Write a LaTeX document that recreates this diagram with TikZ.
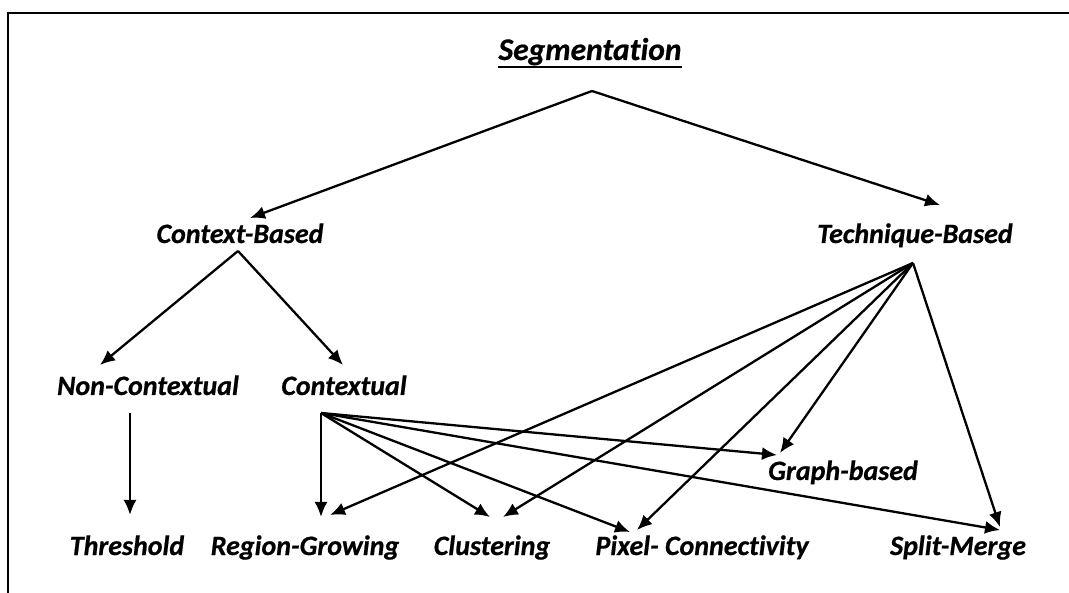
\documentclass[tikz,border=0pt]{standalone}
\usepackage{fontspec}
\setmainfont{Carlito}[Ligatures={NoCommon},BoldItalicFeatures={FakeBold=0.6}]
\usetikzlibrary{arrows.meta}
\begin{document}
\begin{tikzpicture}[x=1pt,y=-1pt,>={Latex[length=15pt,width=13pt]},
    lbl/.style={anchor=base,inner sep=0pt,font=\fontsize{28}{32}\selectfont\bfseries\itshape},
    link/.style={->,line width=2.3pt}]
      \useasboundingbox (0,0) rectangle (1069,593);
      % Draw the frame
      \draw[line width=1.6pt] (8,593) -- (8,13) -- (1069,13);

      % Draw the root and the two families
      \node[lbl,font=\fontsize{31.5}{36}\selectfont\bfseries\itshape] at (590,60) (seg) {Segmentation};
      \draw[line width=2.6pt] ([yshift=-7pt]seg.base west) -- ([yshift=-7pt]seg.base east);
      \node[lbl] at (240,243) (cb) {Context-Based};
      \node[lbl] at (915,243) (tb) {Technique-Based};
      \coordinate (segsrc) at (592,91);
      \draw[link] (segsrc) -- ([xshift=10pt,yshift=25pt]cb.base);
      \draw[link] (segsrc) -- ([xshift=25pt,yshift=38pt]tb.base);

      % Draw the context-based branch
      \node[lbl] at (148,395) (nc) {Non-Contextual};
      \node[lbl] at (344,395) (ctx) {Contextual};
      \coordinate (cbsrc) at (238,251);
      \draw[link] (cbsrc) -- ([xshift=-48pt,yshift=30pt]nc.base);
      \draw[link] (cbsrc) -- ([xshift=-1pt,yshift=30pt]ctx.base);

      % Draw the methods
      \node[lbl] at (127,555) (thr) {Threshold};
      \node[lbl] at (305,555) (rg) {Region-Growing};
      \node[lbl] at (492,555) (clu) {Clustering};
      \node[lbl] at (702,555) (pix) {Pixel- Connectivity};
      \node[lbl] at (958,555) (sm) {Split-Merge};
      \node[lbl] at (843,480) (gb) {Graph-based};

      % Draw the arrows from Non-Contextual and Contextual
      \coordinate (ncsrc) at (130,413);
      \draw[link] (ncsrc) -- ([xshift=3pt,yshift=40pt]thr.base);
      \coordinate (ctxsrc) at (321,413);
      \draw[link] (ctxsrc) -- ([xshift=16pt,yshift=38pt]rg.base);
      \draw[link] (ctxsrc) -- ([xshift=-2pt,yshift=38pt]clu.base);
      \draw[link] (ctxsrc) -- ([xshift=-72pt,yshift=23pt]pix.base);
      \draw[link] (ctxsrc) -- ([xshift=-66pt,yshift=25pt]gb.base);
      \draw[link] (ctxsrc) -- ([xshift=42pt,yshift=25pt]sm.base);

      % Draw the arrows from Technique-Based
      \coordinate (tbsrc) at (913,263);
      \draw[link] (tbsrc) -- ([xshift=25pt,yshift=40pt]rg.base);
      \draw[link] (tbsrc) -- ([xshift=11pt,yshift=38pt]clu.base);
      \draw[link] (tbsrc) -- ([xshift=-65pt,yshift=25pt]pix.base);
      \draw[link] (tbsrc) -- ([xshift=-63pt,yshift=27pt]gb.base);
      \draw[link] (tbsrc) -- ([xshift=42pt,yshift=28pt]sm.base);
    \end{tikzpicture}
\end{document}
